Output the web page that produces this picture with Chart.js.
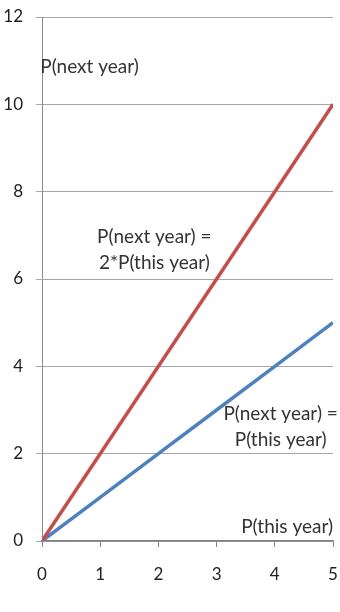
<!DOCTYPE html>
<html>
<head>
<meta charset="utf-8">
<script src="https://cdn.jsdelivr.net/npm/chart.js@4/dist/chart.umd.min.js"></script>
<style>
	html, body { margin: 0; padding: 0; background: #fff; }
	#box { width: 340px; height: 612px; }
</style>
</head>
<body>
<div id="box"><canvas id="ppChart"></canvas></div>
<script>
const thisYear = [0, 1, 2, 3, 4, 5];
const doubleNext = [0, 2, 4, 6, 8, 10];
const sameNext = [0, 1, 2, 3, 4, 5];
const xTicks = [0, 1, 2, 3, 4, 5];
const yTicks = [0, 2, 4, 6, 8, 10, 12];

// text labels placed in data coordinates
const notes = [
	{ lines: ['P(next year)'], x: -0.03, y: 10.85, align: 'left' },
	{ lines: ['P(next year) =', '2*P(this year)'], x: 1.93, y: 6.97, align: 'center' },
	{ lines: ['P(next year) =', 'P(this year)'], x: 4.1, y: 2.9, align: 'center' },
	{ lines: ['P(this year)'], x: 5.0, y: 0.33, align: 'right' }
];

const fontName = "Lato, 'Open Sans', sans-serif";

const notePlugin = {
	id: 'notes',
	afterDatasetsDraw(chart) {
		const ctx = chart.ctx;
		const xs = chart.scales.x, ys = chart.scales.y;
		ctx.save();
		ctx.font = '19px ' + fontName;
		ctx.fillStyle = '#333';
		ctx.textBaseline = 'middle';
		for (const n of notes) {
			ctx.textAlign = n.align;
			const px = xs.getPixelForValue(n.x);
			const py = ys.getPixelForValue(n.y);
			n.lines.forEach((t, i) => ctx.fillText(t, px, py + i * 26));
		}
		ctx.restore();
	}
};

new Chart(document.getElementById('ppChart'), {
	type: 'scatter',
	data: {
		datasets: [
			{
				label: '2x',
				data: thisYear.map((v, i) => ({ x: v, y: doubleNext[i] })),
				showLine: true,
				borderColor: '#C0504D',
				borderWidth: 3.5,
				pointRadius: 0
			},
			{
				label: '1x',
				data: thisYear.map((v, i) => ({ x: v, y: sameNext[i] })),
				showLine: true,
				borderColor: '#4F81BD',
				borderWidth: 3.5,
				pointRadius: 0
			}
		]
	},
	options: {
		responsive: true,
		maintainAspectRatio: false,
		animation: false,
		layout: { padding: { top: 17, right: 7, left: 0, bottom: 0 } },
		plugins: { legend: { display: false }, tooltip: { enabled: false } },
		scales: {
			x: {
				type: 'linear',
				min: 0,
				max: 5,
				afterBuildTicks: s => { s.ticks = xTicks.map(v => ({ value: v })); },
				afterFit: s => { s.height = 71; s.paddingRight = 0; s.paddingLeft = 0; },
				grid: { drawOnChartArea: false, drawTicks: true, tickLength: 6, color: '#7f7f7f', lineWidth: 1 },
				border: { color: '#7f7f7f', width: 1.5 },
				ticks: { padding: 17, color: '#222', font: { size: 17, family: fontName } }
			},
			y: {
				min: 0,
				max: 12,
				afterBuildTicks: s => { s.ticks = yTicks.map(v => ({ value: v })); },
				afterFit: s => { s.width = 42; s.paddingTop = 0; s.paddingBottom = 0; },
				grid: { color: '#a6a6a6', lineWidth: 1, tickLength: 6 },
				border: { color: '#8c8c8c', width: 1 },
				ticks: { padding: 13, color: '#222', font: { size: 17, family: fontName } }
			}
		}
	},
	plugins: [notePlugin]
});
</script>
</body>
</html>
